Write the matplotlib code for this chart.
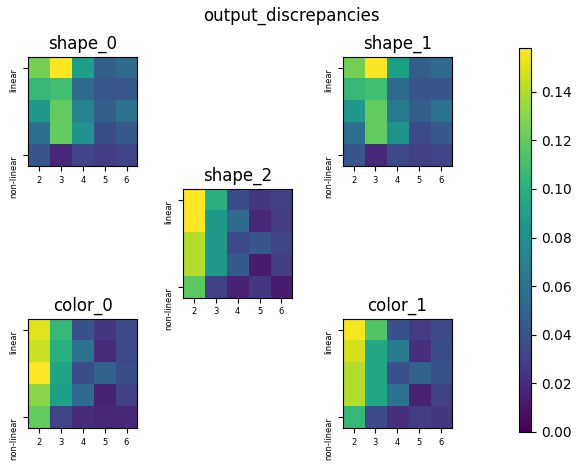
import numpy as np
import matplotlib
matplotlib.use("Agg")
import matplotlib.pyplot as plt

x_labels = ["2", "3", "4", "5", "6"]
y_labels = ["linear", "non-linear"]

shape_0 = [[0.125, 0.158, 0.090, 0.048, 0.055],
           [0.105, 0.110, 0.055, 0.043, 0.043],
           [0.085, 0.120, 0.070, 0.048, 0.060],
           [0.058, 0.120, 0.080, 0.038, 0.045],
           [0.042, 0.018, 0.032, 0.028, 0.032]]
shape_1 = [[0.125, 0.158, 0.090, 0.048, 0.055],
           [0.105, 0.110, 0.055, 0.042, 0.042],
           [0.085, 0.120, 0.065, 0.048, 0.060],
           [0.058, 0.120, 0.080, 0.036, 0.045],
           [0.042, 0.018, 0.034, 0.030, 0.032]]
shape_2 = [[0.158, 0.100, 0.038, 0.025, 0.030],
           [0.158, 0.085, 0.055, 0.018, 0.028],
           [0.140, 0.085, 0.035, 0.042, 0.032],
           [0.140, 0.085, 0.045, 0.012, 0.028],
           [0.118, 0.030, 0.015, 0.025, 0.012]]
color_0 = [[0.150, 0.105, 0.040, 0.025, 0.035],
           [0.145, 0.100, 0.060, 0.020, 0.035],
           [0.158, 0.092, 0.038, 0.050, 0.038],
           [0.130, 0.090, 0.055, 0.015, 0.030],
           [0.120, 0.032, 0.020, 0.018, 0.018]]
color_1 = [[0.155, 0.115, 0.040, 0.028, 0.035],
           [0.148, 0.095, 0.065, 0.022, 0.038],
           [0.140, 0.095, 0.040, 0.050, 0.040],
           [0.140, 0.095, 0.060, 0.015, 0.030],
           [0.105, 0.035, 0.022, 0.028, 0.025]]

panels = {"shape_0": shape_0, "shape_1": shape_1, "shape_2": shape_2,
          "color_0": color_0, "color_1": color_1}
# left, bottom in figure fractions
positions = {"shape_0": (0.048, 0.644), "shape_1": (0.588, 0.644),
             "shape_2": (0.314, 0.361),
             "color_0": (0.048, 0.0815), "color_1": (0.588, 0.0815)}
w, h = 0.189, 0.234
vmax = max(np.max(v) for v in panels.values())

fig = plt.figure(figsize=(5.82, 4.66), dpi=100)
fig.suptitle("output_discrepancies", fontsize=12, y=0.985)
im = None
for name, vals in panels.items():
    l, b = positions[name]
    ax = fig.add_axes([l, b, w, h])
    im = ax.imshow(np.array(vals), cmap="viridis", vmin=0, vmax=vmax)
    ax.set_title(name)
    ax.set_xticks(range(5))
    ax.set_xticklabels(x_labels, fontsize=6)
    ax.set_yticks([0, 4])
    ax.set_yticklabels(y_labels, fontsize=6, rotation=90, va="top")

cax = fig.add_axes([0.892, 0.073, 0.021, 0.824])
fig.colorbar(im, cax=cax)
fig.savefig("out.png")
